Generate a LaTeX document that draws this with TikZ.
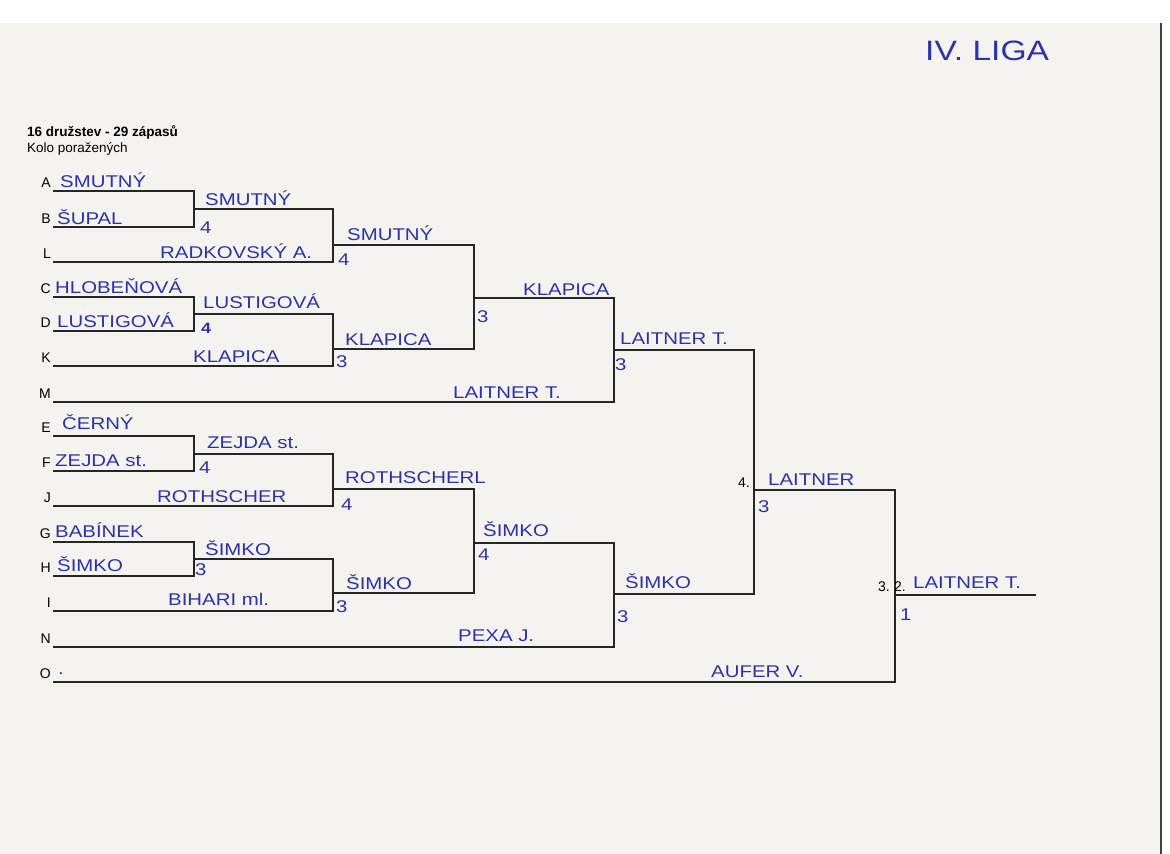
\documentclass[tikz,border=0pt]{standalone}
\usepackage{fontspec}
\setmainfont{Liberation Sans}
\newfontfamily\handfont[FakeStretch=1.2]{Liberation Sans}
\usepackage{tikz}
\definecolor{ink}{RGB}{42,52,168}
\definecolor{paper}{RGB}{244,243,239}

\begin{document}
\begin{tikzpicture}[x=1pt, y=-1pt,
  bline/.style={line width=1.7pt, color=black!85, line join=miter},
  hand/.style={ink, font=\handfont\fontsize{17}{17}\selectfont, anchor=base west, inner sep=0pt},
  score/.style={hand},
  letter/.style={font=\fontsize{14}{14}\selectfont, anchor=base east, inner sep=0pt},
  place/.style={font=\fontsize{14}{14}\selectfont, anchor=base west, inner sep=0pt}]
  \useasboundingbox (0,0) rectangle (1170,854);
  \fill[white] (0,0) rectangle (1170,854);
  \fill[paper] (0,23) rectangle (1160,854);
  \draw[line width=2pt, black!75] (1161,23) -- (1161,854);

  % header
  \node[anchor=base west, inner sep=0pt, font=\bfseries\fontsize{13.5}{14}\selectfont] (title) at (27,136) {16 družstev - 29 zápasů};
  \node[anchor=base west, inner sep=0pt, font=\fontsize{13.5}{14}\selectfont] (sub) at (27,152) {Kolo poražených};
  \node[hand, font=\handfont\fontsize{28}{28}\selectfont] (liga) at (925,60) {IV. LIGA};

  % first column lines with their letters
  \foreach \n/\y/\e in {A/191/194,B/227/194,L/262/333,C/297/194,D/331/194,K/366/333,M/402/614,
                        E/436/194,F/471/194,J/506/333,G/542/194,H/576/194,I/611/333,N/647/614,O/682/895}{
    \coordinate (\n0) at (53,\y);
    \coordinate (\n1) at (\e,\y);
    \node[letter] (t\n) at (51,\y-4) {\n};
  }
  % winner lines
  \foreach \n/\x/\y/\e in {ab/194/209/333,cd/194/314/333,ef/194/454/333,gh/194/559/333,
                           s/333/245/474,k/333/349/474,r/333/489/474,q/333/593/474,
                           u/474/298/614,x/474/543/614,v/614/350/754,w/614/594/754,
                           z/754/490/895,f/895/595/1036}{
    \coordinate (\n0) at (\x,\y);
    \coordinate (\n1) at (\e,\y);
  }

  \draw[bline] (A0) -- (A1) -- (B1) -- (B0);
  \draw[bline] (ab0) -- (ab1) -- (L1) -- (L0);
  \draw[bline] (C0) -- (C1) -- (D1) -- (D0);
  \draw[bline] (cd0) -- (cd1) -- (K1) -- (K0);
  \draw[bline] (s0) -- (s1) -- (k1) -- (k0);
  \draw[bline] (u0) -- (u1) -- (M1) -- (M0);
  \draw[bline] (E0) -- (E1) -- (F1) -- (F0);
  \draw[bline] (ef0) -- (ef1) -- (J1) -- (J0);
  \draw[bline] (G0) -- (G1) -- (H1) -- (H0);
  \draw[bline] (gh0) -- (gh1) -- (I1) -- (I0);
  \draw[bline] (r0) -- (r1) -- (q1) -- (q0);
  \draw[bline] (x0) -- (x1) -- (N1) -- (N0);
  \draw[bline] (v0) -- (v1) -- (w1) -- (w0);
  \draw[bline] (z0) -- (z1) -- (O1) -- (O0);
  \draw[bline] (f0) -- (f1);

  % upper half
  \node[hand] (nA) at (60,187) {SMUTNÝ};
  \node[hand] (nB) at (57,224) {ŠUPAL};
  \node[hand] (wAB) at (205,205) {SMUTNÝ};
  \node[score] (sAB) at (200,233) {4};
  \node[hand] (nL) at (160,258) {RADKOVSKÝ A.};
  \node[hand] (wABL) at (347,240) {SMUTNÝ};
  \node[score] (sABL) at (338,265) {4};
  \node[hand] (nC) at (55,293) {HLOBEŇOVÁ};
  \node[hand] (nD) at (57,327) {LUSTIGOVÁ};
  \node[hand] (wCD) at (203,308) {LUSTIGOVÁ};
  \node[score, font=\handfont\bfseries\fontsize{15}{15}\selectfont] (sCD) at (201,333) {4};
  \node[hand] (nK) at (193,362) {KLAPICA};
  \node[hand] (wCDK) at (345,345) {KLAPICA};
  \node[score] (sCDK) at (336,367) {3};
  \node[hand] (nM) at (453,398) {LAITNER T.};
  \node[hand] (wTop) at (523,295) {KLAPICA};
  \node[score] (sTop) at (477,322) {3};
  \node[hand] (wTopM) at (620,344) {LAITNER T.};
  \node[score] (sTopM) at (615,370) {3};

  % lower half
  \node[hand] (nE) at (62,429) {ČERNÝ};
  \node[hand] (nF) at (55,466) {ZEJDA st.};
  \node[hand] (wEF) at (207,448) {ZEJDA st.};
  \node[score] (sEF) at (199,473) {4};
  \node[hand] (nJ) at (157,502) {ROTHSCHER};
  \node[hand] (wEFJ) at (345,483) {ROTHSCHERL};
  \node[score] (sEFJ) at (341,510) {4};
  \node[hand] (nG) at (55,537) {BABÍNEK};
  \node[hand] (nH) at (57,571) {ŠIMKO};
  \node[hand] (wGH) at (205,555) {ŠIMKO};
  \node[score] (sGH) at (195,575) {3};
  \node[hand] (nI) at (168,605) {BIHARI ml.};
  \node[hand] (wGHI) at (346,589) {ŠIMKO};
  \node[score] (sGHI) at (336,612) {3};
  \node[hand] (wBot) at (483,536) {ŠIMKO};
  \node[score] (sBot) at (478,560) {4};
  \node[hand] (nN) at (458,641) {PEXA J.};
  \node[hand] (wBotN) at (625,588) {ŠIMKO};
  \node[score] (sBotN) at (617,622) {3};
  \node[hand] (dO) at (58,674) {.};
  \node[hand] (nO) at (711,677) {AUFER V.};

  % final rounds
  \node[hand] (wSemi) at (768,485) {LAITNER};
  \node[score] (sSemi) at (758,512) {3};
  \node[hand] (wFin) at (913,588) {LAITNER T.};
  \node[score] (sFin) at (900,620) {1};
  \node[place] (p4) at (738,487) {4.};
  \node[place] (p3) at (878,591) {3.};
  \node[place] (p2) at (894,591) {2.};
\end{tikzpicture}
\end{document}
